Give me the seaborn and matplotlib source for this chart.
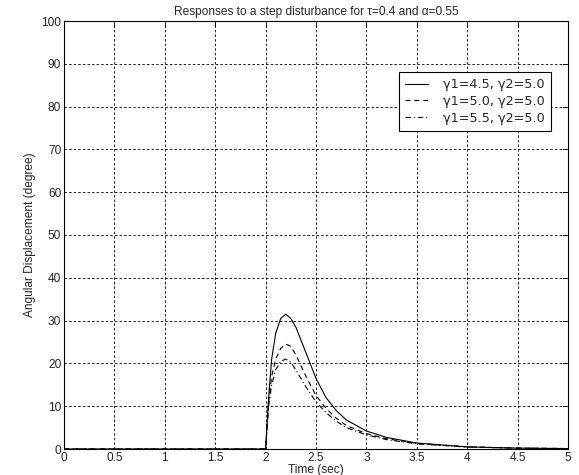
import numpy as np
import pandas as pd
import matplotlib
matplotlib.use("Agg")
import matplotlib.pyplot as plt
import seaborn as sns

# ---- data ----
t = [0.0, 2.0, 2.03, 2.06, 2.1, 2.15, 2.2, 2.25, 2.3, 2.4, 2.5, 2.6, 2.7, 2.8, 3.0, 3.2, 3.5, 4.0, 4.5, 5.0]
y_45 = [0, 0, 12, 21, 27, 30.5, 31.5, 30.5, 28.5, 22.5, 16.5, 12, 9, 6.8, 4.2, 2.7, 1.4, 0.5, 0.2, 0.1]
y_50 = [0, 0, 11, 17, 21, 23.5, 24.5, 24, 22, 17, 12.5, 9.5, 7.2, 5.5, 3.6, 2.4, 1.3, 0.5, 0.2, 0.1]
y_55 = [0, 0, 10, 15, 18.5, 20.5, 21, 20.3, 18.5, 14.5, 11, 8.5, 6.5, 5.0, 3.3, 2.2, 1.2, 0.45, 0.2, 0.1]
labels = ["γ1=4.5, γ2=5.0", "γ1=5.0, γ2=5.0", "γ1=5.5, γ2=5.0"]
x_ticks = [0, 0.5, 1, 1.5, 2, 2.5, 3, 3.5, 4, 4.5, 5]
x_ticklabels = ["0", "0.5", "1", "1.5", "2", "2.5", "3", "3.5", "4", "4.5", "5"]
y_ticks = [0, 10, 20, 30, 40, 50, 60, 70, 80, 90, 100]
title = "Responses to a step disturbance for τ=0.4 and α=0.55"
xlabel = "Time (sec)"
ylabel = "Angular Displacement (degree)"

sns.set_style("white")
plt.rcParams["font.family"] = ["Liberation Sans", "DejaVu Sans"]
plt.rcParams["font.size"] = 8.6

fig = plt.figure(figsize=(5.79, 4.75), dpi=100)
top_px, bot_px = 21, 449
ax = fig.add_axes([64/579, 1 - bot_px/475, (568-64)/579, (bot_px-top_px)/475])

styles = ["-", (0, (4.5, 3.5)), (0, (5, 2.5, 1, 2.5))]
for ys, lab, ls in zip([y_45, y_50, y_55], labels, styles):
    df = pd.DataFrame({"t": t, "y": ys})
    sns.lineplot(data=df, x="t", y="y", ax=ax, color="black", linewidth=0.8,
                 linestyle=ls, label=lab)

ax.set_xlim(0, 5)
ax.set_ylim(0, 100)
ax.set_xticks(x_ticks)
ax.set_xticklabels(x_ticklabels)
ax.set_yticks(y_ticks)
ax.grid(True, color="black", linestyle=(0, (3, 2.5)), linewidth=0.6)
ax.tick_params(direction="in", top=True, right=True, length=4, width=0.6,
               labelsize=8.6, pad=2, color="black")
for s in ax.spines.values():
    s.set_color("black")
    s.set_linewidth(0.8)
ax.set_xlabel(xlabel, fontsize=8.6, labelpad=0)
ax.set_ylabel(ylabel, fontsize=8.6, labelpad=4)
ax.set_title(title, fontsize=8.6, pad=4)

leg = ax.legend(loc="upper left", bbox_to_anchor=(0.665, 0.88), frameon=True,
                fancybox=False, framealpha=1, edgecolor="black",
                prop={"family": ["DejaVu Sans"], "size": 9.2},
                handlelength=1.8, handletextpad=1.2, borderpad=0.45,
                labelspacing=0.3, borderaxespad=0)
leg.get_frame().set_linewidth(0.8)

fig.savefig("out.png", dpi=100, facecolor="white")
